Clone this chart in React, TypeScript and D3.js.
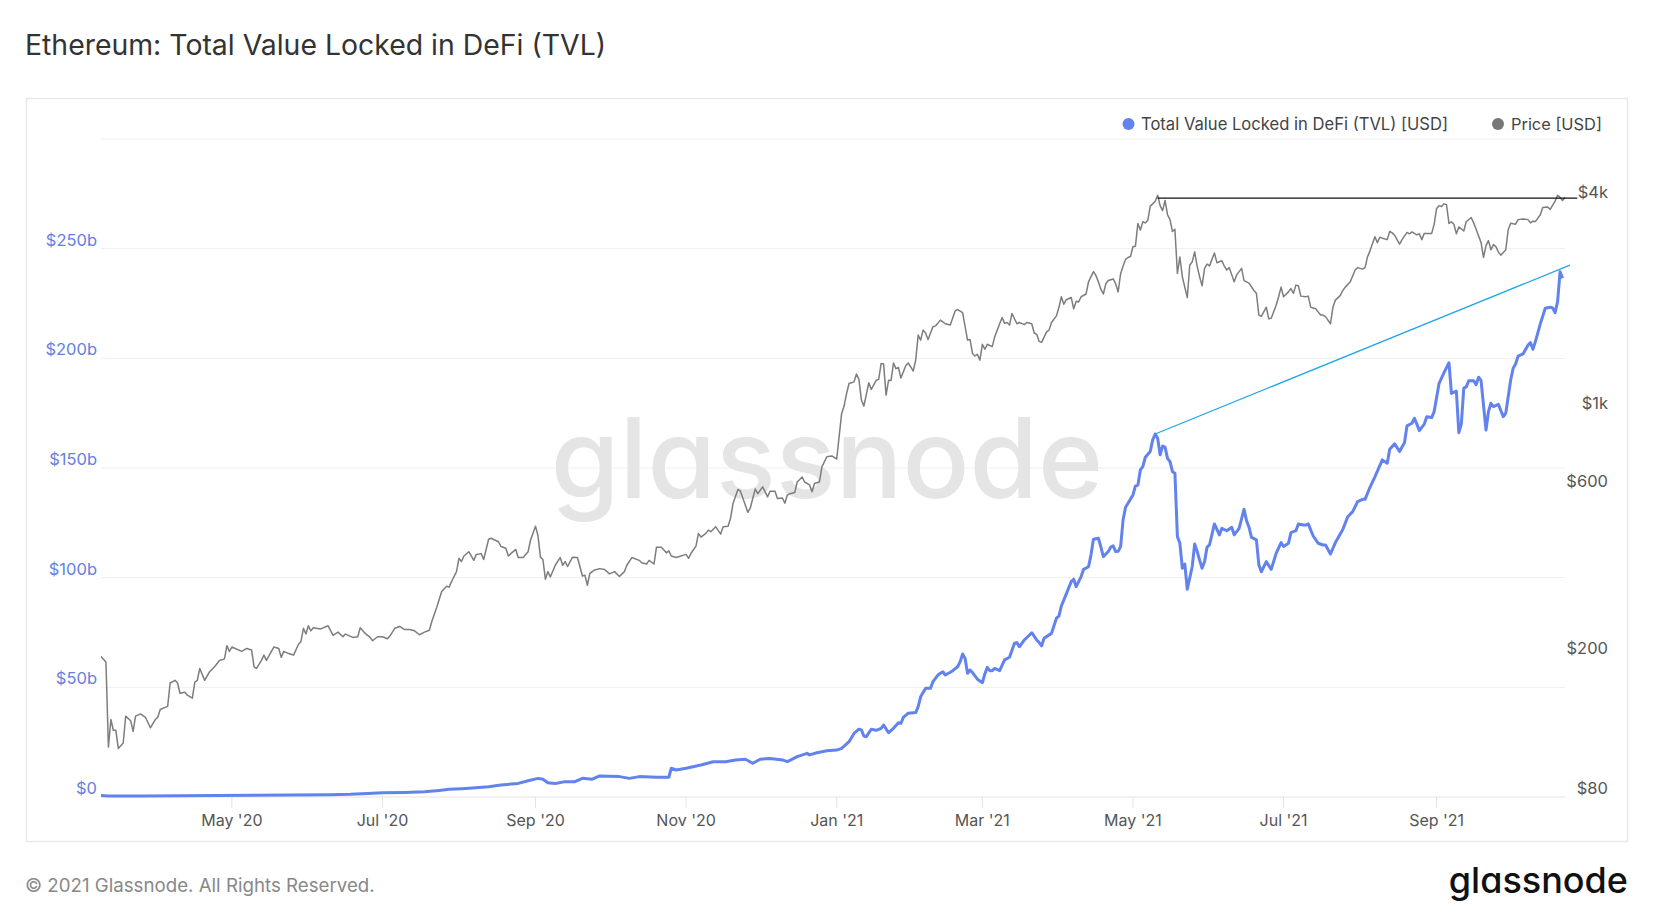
import { useRef, useEffect } from 'react';
import * as d3 from 'd3';

type Point = [string, number];

// ETH price [USD]
const price2020: Point[] = [
  ['2020-03-09', 201], ['2020-03-11', 194], ['2020-03-12', 111], ['2020-03-13', 133], ['2020-03-14', 124],
  ['2020-03-15', 124], ['2020-03-16', 110], ['2020-03-18', 114], ['2020-03-19', 136], ['2020-03-21', 132],
  ['2020-03-22', 123], ['2020-03-23', 136], ['2020-03-25', 138], ['2020-03-27', 135], ['2020-03-29', 126],
  ['2020-03-31', 133], ['2020-04-01', 135], ['2020-04-02', 142], ['2020-04-04', 144], ['2020-04-05', 145],
  ['2020-04-06', 169], ['2020-04-08', 172], ['2020-04-09', 169], ['2020-04-10', 158], ['2020-04-12', 159],
  ['2020-04-13', 156], ['2020-04-15', 153], ['2020-04-16', 170], ['2020-04-17', 172], ['2020-04-18', 186],
  ['2020-04-20', 172], ['2020-04-22', 182], ['2020-04-24', 188], ['2020-04-26', 196], ['2020-04-28', 198],
  ['2020-04-29', 216], ['2020-04-30', 208], ['2020-05-01', 214], ['2020-05-05', 208], ['2020-05-07', 212],
  ['2020-05-09', 210], ['2020-05-10', 188], ['2020-05-11', 186], ['2020-05-13', 196], ['2020-05-14', 203],
  ['2020-05-15', 196], ['2020-05-18', 214], ['2020-05-20', 212], ['2020-05-21', 200], ['2020-05-22', 208],
  ['2020-05-24', 205], ['2020-05-26', 203], ['2020-05-28', 218], ['2020-05-29', 222], ['2020-05-30', 242],
  ['2020-05-31', 233], ['2020-06-01', 246], ['2020-06-02', 238], ['2020-06-03', 243], ['2020-06-06', 241],
  ['2020-06-09', 246], ['2020-06-11', 231], ['2020-06-13', 236], ['2020-06-15', 229], ['2020-06-16', 233],
  ['2020-06-19', 228], ['2020-06-21', 229], ['2020-06-22', 243], ['2020-06-24', 234], ['2020-06-26', 228],
  ['2020-06-27', 223], ['2020-06-29', 229], ['2020-07-01', 229], ['2020-07-03', 226], ['2020-07-04', 230],
  ['2020-07-06', 242], ['2020-07-08', 245], ['2020-07-10', 240], ['2020-07-12', 240], ['2020-07-14', 238],
  ['2020-07-16', 232], ['2020-07-18', 236], ['2020-07-20', 239], ['2020-07-21', 253], ['2020-07-23', 278],
  ['2020-07-25', 308], ['2020-07-27', 319], ['2020-07-28', 317], ['2020-07-29', 329], ['2020-07-31', 351],
  ['2020-08-01', 383], ['2020-08-02', 375], ['2020-08-03', 389], ['2020-08-05', 400], ['2020-08-07', 378],
  ['2020-08-08', 393], ['2020-08-10', 395], ['2020-08-11', 380], ['2020-08-13', 434], ['2020-08-14', 437],
  ['2020-08-17', 427], ['2020-08-18', 414], ['2020-08-20', 409], ['2020-08-21', 389], ['2020-08-22', 395],
  ['2020-08-24', 406], ['2020-08-25', 385], ['2020-08-27', 385], ['2020-08-29', 400], ['2020-08-30', 432],
  ['2020-09-01', 473], ['2020-09-02', 444], ['2020-09-03', 386], ['2020-09-04', 380], ['2020-09-05', 334],
  ['2020-09-06', 351], ['2020-09-07', 339], ['2020-09-09', 366], ['2020-09-11', 385], ['2020-09-12', 366],
  ['2020-09-13', 375], ['2020-09-14', 363], ['2020-09-16', 386], ['2020-09-18', 385], ['2020-09-20', 341],
  ['2020-09-21', 343], ['2020-09-22', 321], ['2020-09-23', 347], ['2020-09-25', 355], ['2020-09-27', 358],
  ['2020-09-29', 356], ['2020-10-01', 346], ['2020-10-03', 351], ['2020-10-05', 340], ['2020-10-07', 351],
  ['2020-10-08', 366], ['2020-10-10', 385], ['2020-10-13', 378], ['2020-10-14', 372], ['2020-10-16', 369],
  ['2020-10-17', 378], ['2020-10-19', 369], ['2020-10-20', 412], ['2020-10-22', 412], ['2020-10-24', 397],
  ['2020-10-25', 402], ['2020-10-26', 389], ['2020-10-28', 385], ['2020-11-01', 393], ['2020-11-02', 383],
  ['2020-11-03', 396], ['2020-11-05', 415], ['2020-11-06', 451], ['2020-11-07', 440], ['2020-11-09', 451],
  ['2020-11-10', 461], ['2020-11-11', 456], ['2020-11-13', 471], ['2020-11-15', 449], ['2020-11-16', 471],
  ['2020-11-18', 473], ['2020-11-19', 498], ['2020-11-20', 549], ['2020-11-22', 602], ['2020-11-23', 595],
  ['2020-11-25', 543], ['2020-11-26', 518], ['2020-11-27', 533], ['2020-11-29', 604], ['2020-11-30', 585],
  ['2020-12-02', 612], ['2020-12-04', 573], ['2020-12-05', 595], ['2020-12-07', 595], ['2020-12-08', 567],
  ['2020-12-10', 569], ['2020-12-11', 550], ['2020-12-12', 580], ['2020-12-13', 585], ['2020-12-15', 590],
  ['2020-12-16', 632], ['2020-12-18', 653], ['2020-12-19', 632], ['2020-12-21', 620], ['2020-12-22', 593],
  ['2020-12-23', 626], ['2020-12-25', 632], ['2020-12-26', 698], ['2020-12-28', 746], ['2020-12-30', 750],
];

const price2021: Point[] = [
  ['2021-01-01', 735], ['2021-01-03', 991], ['2021-01-04', 1040], ['2021-01-05', 1130], ['2021-01-06', 1206],
  ['2021-01-08', 1219], ['2021-01-09', 1283], ['2021-01-10', 1239], ['2021-01-11', 1082], ['2021-01-12', 1040],
  ['2021-01-14', 1212], ['2021-01-15', 1160], ['2021-01-17', 1232], ['2021-01-18', 1239], ['2021-01-19', 1376],
  ['2021-01-20', 1370], ['2021-01-21', 1118], ['2021-01-22', 1232], ['2021-01-23', 1230], ['2021-01-24', 1380],
  ['2021-01-25', 1330], ['2021-01-26', 1340], ['2021-01-27', 1250], ['2021-01-29', 1357], ['2021-01-30', 1380],
  ['2021-02-01', 1309], ['2021-02-02', 1406], ['2021-02-03', 1657], ['2021-02-04', 1603], ['2021-02-05', 1712],
  ['2021-02-06', 1680], ['2021-02-07', 1610], ['2021-02-09', 1750], ['2021-02-10', 1760], ['2021-02-12', 1828],
  ['2021-02-14', 1785], ['2021-02-16', 1770], ['2021-02-18', 1943], ['2021-02-19', 1960], ['2021-02-21', 1920],
  ['2021-02-23', 1604], ['2021-02-24', 1610], ['2021-02-25', 1469], ['2021-02-26', 1445], ['2021-02-27', 1460],
  ['2021-02-28', 1406], ['2021-03-01', 1560], ['2021-03-02', 1510], ['2021-03-03', 1560], ['2021-03-05', 1537],
  ['2021-03-06', 1638], ['2021-03-08', 1785], ['2021-03-09', 1861], ['2021-03-10', 1790], ['2021-03-11', 1800],
  ['2021-03-12', 1770], ['2021-03-13', 1910], ['2021-03-15', 1785], ['2021-03-16', 1800], ['2021-03-18', 1775],
  ['2021-03-19', 1800], ['2021-03-21', 1785], ['2021-03-22', 1680], ['2021-03-23', 1665], ['2021-03-24', 1590],
  ['2021-03-25', 1580], ['2021-03-27', 1693], ['2021-03-28', 1712], ['2021-03-29', 1800], ['2021-03-31', 1880],
  ['2021-04-01', 1985], ['2021-04-02', 2131], ['2021-04-03', 2030], ['2021-04-04', 2090], ['2021-04-06', 2120],
  ['2021-04-07', 1970], ['2021-04-08', 2070], ['2021-04-09', 2060], ['2021-04-10', 2131], ['2021-04-12', 2170],
  ['2021-04-13', 2350], ['2021-04-15', 2512], ['2021-04-16', 2450], ['2021-04-17', 2350], ['2021-04-18', 2240],
  ['2021-04-19', 2170], ['2021-04-20', 2320], ['2021-04-21', 2370], ['2021-04-23', 2395], ['2021-04-24', 2320],
  ['2021-04-25', 2200], ['2021-04-26', 2480], ['2021-04-27', 2606], ['2021-04-28', 2722], ['2021-04-29', 2757],
  ['2021-04-30', 2775], ['2021-05-01', 2958], ['2021-05-02', 2970], ['2021-05-03', 3448], ['2021-05-04', 3300],
  ['2021-05-05', 3485], ['2021-05-06', 3460], ['2021-05-07', 3520], ['2021-05-08', 3862], ['2021-05-09', 3920],
  ['2021-05-10', 3990], ['2021-05-11', 4150], ['2021-05-12', 3875], ['2021-05-13', 3750], ['2021-05-14', 4010],
  ['2021-05-15', 3650], ['2021-05-16', 3535], ['2021-05-17', 3270], ['2021-05-18', 3320], ['2021-05-19', 2483],
  ['2021-05-20', 2765], ['2021-05-21', 2430], ['2021-05-23', 2120], ['2021-05-24', 2620], ['2021-05-25', 2680],
  ['2021-05-26', 2860], ['2021-05-27', 2606], ['2021-05-28', 2430], ['2021-05-29', 2290], ['2021-05-30', 2567],
  ['2021-05-31', 2640], ['2021-06-01', 2610], ['2021-06-03', 2840], ['2021-06-04', 2665], ['2021-06-06', 2700],
  ['2021-06-07', 2606], ['2021-06-08', 2540], ['2021-06-09', 2580], ['2021-06-11', 2350], ['2021-06-12', 2460],
  ['2021-06-14', 2567], ['2021-06-15', 2370], ['2021-06-17', 2330], ['2021-06-19', 2220], ['2021-06-20', 2180],
  ['2021-06-21', 1890], ['2021-06-22', 1875], ['2021-06-24', 1990], ['2021-06-25', 1843], ['2021-06-26', 1850],
  ['2021-06-28', 2015], ['2021-06-29', 2131], ['2021-06-30', 2270], ['2021-07-01', 2131], ['2021-07-03', 2200],
  ['2021-07-04', 2250], ['2021-07-05', 2180], ['2021-07-06', 2300], ['2021-07-07', 2290], ['2021-07-08', 2140],
  ['2021-07-10', 2130], ['2021-07-11', 2140], ['2021-07-12', 1990], ['2021-07-14', 1970], ['2021-07-15', 1930],
  ['2021-07-16', 1890], ['2021-07-17', 1890], ['2021-07-18', 1870], ['2021-07-20', 1785], ['2021-07-21', 1990],
  ['2021-07-22', 2085], ['2021-07-24', 2150], ['2021-07-25', 2220], ['2021-07-26', 2270], ['2021-07-28', 2350],
  ['2021-07-30', 2540], ['2021-07-31', 2580], ['2021-08-02', 2555], ['2021-08-03', 2580], ['2021-08-04', 2768],
  ['2021-08-05', 2880], ['2021-08-07', 3160], ['2021-08-08', 3040], ['2021-08-09', 3150], ['2021-08-10', 3130],
  ['2021-08-12', 3100], ['2021-08-13', 3270], ['2021-08-14', 3240], ['2021-08-15', 3190], ['2021-08-17', 3010],
  ['2021-08-18', 3100], ['2021-08-20', 3250], ['2021-08-21', 3220], ['2021-08-22', 3260], ['2021-08-24', 3200],
  ['2021-08-25', 3220], ['2021-08-26', 3100], ['2021-08-27', 3230], ['2021-08-30', 3230], ['2021-08-31', 3430],
  ['2021-09-01', 3804], ['2021-09-02', 3875], ['2021-09-03', 3850], ['2021-09-04', 3920], ['2021-09-05', 3900],
  ['2021-09-06', 3448], ['2021-09-07', 3485], ['2021-09-08', 3430], ['2021-09-09', 3220], ['2021-09-10', 3370],
  ['2021-09-12', 3280], ['2021-09-13', 3485], ['2021-09-15', 3585], ['2021-09-16', 3460], ['2021-09-17', 3320],
  ['2021-09-19', 3040], ['2021-09-20', 2758], ['2021-09-21', 2980], ['2021-09-22', 3080], ['2021-09-23', 2900],
  ['2021-09-24', 3000], ['2021-09-25', 2960], ['2021-09-26', 2860], ['2021-09-27', 2800], ['2021-09-29', 2900],
  ['2021-09-30', 3310], ['2021-10-01', 3450], ['2021-10-03', 3430], ['2021-10-04', 3535], ['2021-10-06', 3550],
  ['2021-10-08', 3535], ['2021-10-09', 3460], ['2021-10-10', 3500], ['2021-10-11', 3490], ['2021-10-13', 3650],
  ['2021-10-14', 3830], ['2021-10-16', 3840], ['2021-10-17', 3780], ['2021-10-19', 3990], ['2021-10-20', 4150],
  ['2021-10-21', 4090], ['2021-10-22', 4010], ['2021-10-23', 4090],
];

// Total value locked in DeFi [billion USD]
const tvl2020: Point[] = [
  ['2020-03-09', 0.7], ['2020-03-12', 0.5], ['2020-03-25', 0.5], ['2020-04-10', 0.6], ['2020-04-25', 0.7],
  ['2020-05-10', 0.8], ['2020-05-25', 0.9], ['2020-06-10', 1.0], ['2020-06-18', 1.2], ['2020-06-25', 1.6],
  ['2020-07-01', 1.9], ['2020-07-10', 2.1], ['2020-07-18', 2.4], ['2020-07-24', 3.0], ['2020-07-28', 3.5],
  ['2020-08-02', 3.8], ['2020-08-05', 4.0], ['2020-08-13', 4.7], ['2020-08-18', 5.5], ['2020-08-25', 6.2],
  ['2020-08-29', 7.4], ['2020-09-02', 8.5], ['2020-09-04', 8.1], ['2020-09-06', 6.5], ['2020-09-09', 6.2],
  ['2020-09-13', 7.0], ['2020-09-17', 7.0], ['2020-09-20', 8.5], ['2020-09-24', 8.1], ['2020-09-27', 9.6],
  ['2020-10-05', 9.3], ['2020-10-09', 8.5], ['2020-10-13', 9.3], ['2020-10-20', 9.0], ['2020-10-25', 9.0],
  ['2020-10-26', 13.1], ['2020-10-28', 12.3], ['2020-11-01', 13.1], ['2020-11-07', 14.6], ['2020-11-12', 16.1],
  ['2020-11-17', 16.1], ['2020-11-21', 16.9], ['2020-11-25', 17.2], ['2020-11-28', 15.4], ['2020-12-01', 17.2],
  ['2020-12-05', 17.6], ['2020-12-10', 16.9], ['2020-12-12', 16.1], ['2020-12-16', 18.4], ['2020-12-20', 19.9],
  ['2020-12-21', 19.2], ['2020-12-24', 20.2], ['2020-12-28', 21.1],
];

const tvl2021: Point[] = [
  ['2021-01-01', 21.4], ['2021-01-03', 22.2], ['2021-01-06', 25.2], ['2021-01-08', 29.0], ['2021-01-10', 30.9],
  ['2021-01-11', 30.6], ['2021-01-12', 27.8], ['2021-01-13', 27.5], ['2021-01-15', 30.9], ['2021-01-17', 30.4],
  ['2021-01-19', 31.3], ['2021-01-20', 32.8], ['2021-01-22', 29.3], ['2021-01-24', 31.3], ['2021-01-26', 33.9],
  ['2021-01-27', 33.6], ['2021-01-28', 36.3], ['2021-01-30', 38.2], ['2021-02-02', 38.5], ['2021-02-03', 41.2],
  ['2021-02-04', 45.7], ['2021-02-06', 49.6], ['2021-02-08', 49.6], ['2021-02-09', 52.6], ['2021-02-11', 55.6],
  ['2021-02-12', 56.4], ['2021-02-13', 57.1], ['2021-02-14', 55.6], ['2021-02-16', 56.9], ['2021-02-17', 57.6],
  ['2021-02-19', 59.4], ['2021-02-20', 61.7], ['2021-02-21', 65.2], ['2021-02-22', 63.2], ['2021-02-23', 56.4],
  ['2021-02-24', 57.9], ['2021-02-25', 56.7], ['2021-02-27', 53.7], ['2021-03-01', 52.1], ['2021-03-02', 56.1],
  ['2021-03-03', 59.1], ['2021-03-04', 57.6], ['2021-03-05', 57.6], ['2021-03-06', 58.6], ['2021-03-08', 57.6],
  ['2021-03-10', 62.5], ['2021-03-12', 63.7], ['2021-03-14', 70.1], ['2021-03-15', 70.4], ['2021-03-16', 68.5],
  ['2021-03-18', 71.6], ['2021-03-21', 74.9], ['2021-03-23', 71.6], ['2021-03-24', 70.4], ['2021-03-25', 68.9],
  ['2021-03-26', 72.4], ['2021-03-29', 74.6], ['2021-03-31', 81.5], ['2021-04-01', 82.5], ['2021-04-02', 87.1],
  ['2021-04-04', 92.6], ['2021-04-06', 98.2], ['2021-04-07', 99.3], ['2021-04-08', 95.9], ['2021-04-10', 100.5],
  ['2021-04-11', 103.8], ['2021-04-13', 105.0], ['2021-04-14', 110.4], ['2021-04-15', 117.5], ['2021-04-17', 118.0],
  ['2021-04-18', 114.0], ['2021-04-19', 109.6], ['2021-04-21', 111.9], ['2021-04-22', 113.9], ['2021-04-23', 114.5],
  ['2021-04-24', 111.9], ['2021-04-25', 112.0], ['2021-04-26', 114.2], ['2021-04-27', 126.3], ['2021-04-28', 132.1],
  ['2021-04-29', 133.9], ['2021-05-01', 137.7], ['2021-05-02', 141.8], ['2021-05-03', 142.2], ['2021-05-04', 149.1],
  ['2021-05-05', 150.6], ['2021-05-06', 154.9], ['2021-05-08', 157.5], ['2021-05-09', 162.8], ['2021-05-10', 165.5],
  ['2021-05-11', 163.6], ['2021-05-12', 156.0], ['2021-05-13', 160.0], ['2021-05-14', 159.5], ['2021-05-15', 154.4],
  ['2021-05-16', 152.9], ['2021-05-17', 148.3], ['2021-05-18', 147.6], ['2021-05-19', 118.7], ['2021-05-20', 115.7],
  ['2021-05-21', 104.3], ['2021-05-22', 106.2], ['2021-05-23', 94.7], ['2021-05-25', 105.0], ['2021-05-26', 115.4],
  ['2021-05-27', 112.0], ['2021-05-28', 108.0], ['2021-05-29', 104.3], ['2021-05-30', 107.3], ['2021-05-31', 113.9],
  ['2021-06-01', 114.9], ['2021-06-03', 124.5], ['2021-06-05', 119.5], ['2021-06-06', 122.5], ['2021-06-08', 121.4],
  ['2021-06-10', 123.0], ['2021-06-11', 119.5], ['2021-06-13', 122.5], ['2021-06-15', 131.2], ['2021-06-16', 126.0],
  ['2021-06-17', 123.0], ['2021-06-18', 118.4], ['2021-06-20', 117.2], ['2021-06-21', 105.8], ['2021-06-22', 102.7],
  ['2021-06-24', 107.3], ['2021-06-26', 103.8], ['2021-06-28', 111.1], ['2021-06-30', 116.0], ['2021-07-01', 114.2],
  ['2021-07-03', 115.7], ['2021-07-04', 120.5], ['2021-07-06', 121.4], ['2021-07-07', 124.5], ['2021-07-09', 124.0],
  ['2021-07-10', 124.0], ['2021-07-11', 124.5], ['2021-07-13', 119.0], ['2021-07-15', 115.7], ['2021-07-17', 114.9],
  ['2021-07-18', 114.9], ['2021-07-20', 110.8], ['2021-07-22', 116.0], ['2021-07-25', 122.0], ['2021-07-27', 127.8],
  ['2021-07-29', 130.1], ['2021-07-31', 134.7], ['2021-08-02', 135.7], ['2021-08-03', 135.7], ['2021-08-05', 141.2],
  ['2021-08-07', 146.0], ['2021-08-10', 153.7], ['2021-08-12', 152.2], ['2021-08-13', 158.5], ['2021-08-15', 161.0],
  ['2021-08-17', 157.5], ['2021-08-19', 161.6], ['2021-08-20', 169.2], ['2021-08-22', 170.4], ['2021-08-23', 172.7],
  ['2021-08-24', 170.0], ['2021-08-25', 167.0], ['2021-08-27', 170.0], ['2021-08-28', 173.4], ['2021-08-30', 173.0],
  ['2021-08-31', 175.7], ['2021-09-02', 188.6], ['2021-09-04', 193.5], ['2021-09-06', 198.0], ['2021-09-07', 184.0],
  ['2021-09-09', 185.0], ['2021-09-10', 166.1], ['2021-09-11', 170.0], ['2021-09-12', 186.4], ['2021-09-13', 187.0],
  ['2021-09-14', 189.8], ['2021-09-16', 189.8], ['2021-09-17', 188.0], ['2021-09-18', 191.4], ['2021-09-19', 189.8],
  ['2021-09-21', 167.3], ['2021-09-22', 175.7], ['2021-09-23', 179.5], ['2021-09-24', 178.0], ['2021-09-26', 179.0],
  ['2021-09-27', 176.2], ['2021-09-28', 173.4], ['2021-09-29', 175.0], ['2021-10-01', 190.1], ['2021-10-02', 195.5],
  ['2021-10-03', 197.4], ['2021-10-04', 201.0], ['2021-10-06', 202.0], ['2021-10-08', 206.0], ['2021-10-09', 207.2],
  ['2021-10-10', 204.1], ['2021-10-11', 207.6], ['2021-10-13', 215.7], ['2021-10-15', 222.8], ['2021-10-17', 223.3],
  ['2021-10-18', 223.0], ['2021-10-19', 220.8], ['2021-10-20', 225.9], ['2021-10-21', 239.5], ['2021-10-22', 236.5],
];

// axes
const tvlTicks = [0, 50, 100, 150, 200, 250, 300];
const tvlTickLabels = ['$0', '$50b', '$100b', '$150b', '$200b', '$250b', ''];
const priceTicks = [80, 200, 600, 1000, 4000];
const priceTickLabels = ['$80', '$200', '$600', '$1k', '$4k'];
const xTicks = ['2020-05-01', '2020-07-01', '2020-09-01', '2020-11-01', '2021-01-01', '2021-03-01', '2021-05-01', '2021-07-01', '2021-09-01'];

// annotations drawn on the chart
const athLine: Point[] = [['2021-05-11', 4070], ['2021-10-28', 4070]];
const tvlTrend: Point[] = [['2021-05-10', 165.5], ['2021-10-25', 242.5]];

const TVL_COLOR = '#6282ee';
const PRICE_COLOR = '#7d7d7d';
const FONT = 'Inter, "Noto Sans", sans-serif';

export default function App() {
  const svgRef = useRef<SVGSVGElement>(null);

  const drawChart = () => {
    const svg = d3.select(svgRef.current);
    svg.selectAll('*').remove();

    const parse = d3.timeParse('%Y-%m-%d');
    const toDate = (s: string) => parse(s) as Date;
    const price = [...price2020, ...price2021].map(([d, v]) => ({ date: toDate(d), value: v }));
    const tvl = [...tvl2020, ...tvl2021].map(([d, v]) => ({ date: toDate(d), value: v }));

    // plot area
    const left = 101, right = 1565, top = 139, bottom = 797;

    const x = d3.scaleTime()
      .domain(d3.extent(price, d => d.date) as [Date, Date])
      .range([left, right]);
    const yTvl = d3.scaleLinear().domain([0, 300]).range([bottom, top]);
    const yPrice = d3.scaleLog().domain([80, 6000]).range([bottom, top]);

    svg.append('rect').attr('width', 1660).attr('height', 913).attr('fill', '#fff');

    // title
    svg.append('text')
      .attr('x', 25).attr('y', 55)
      .style('font-family', FONT).style('font-size', '28.4px').style('font-weight', 400)
      .attr('fill', '#333')
      .text('Ethereum: Total Value Locked in DeFi (TVL)');

    // chart frame
    svg.append('rect')
      .attr('x', 26.5).attr('y', 98.5).attr('width', 1601).attr('height', 743)
      .attr('fill', 'none').attr('stroke', '#e8e8e8').attr('stroke-width', 1.5);

    // grid lines
    svg.append('g').selectAll('line')
      .data(tvlTicks)
      .enter().append('line')
      .attr('x1', left).attr('x2', right)
      .attr('y1', d => yTvl(d)).attr('y2', d => yTvl(d))
      .attr('stroke', d => (d === 0 ? '#e3e3e3' : '#efefef'))
      .attr('stroke-width', 1);

    // watermark
    svg.append('text')
      .attr('x', 827).attr('y', 498)
      .attr('text-anchor', 'middle')
      .style('font-family', FONT).style('font-size', '111px').style('font-weight', 500)
      .style('font-feature-settings', '"cv11" 1')
      .attr('fill', '#e5e5e5')
      .text('glassnode');

    // x axis ticks + labels
    const fmt = d3.timeFormat("%b '%y");
    const xg = svg.append('g');
    xTicks.forEach(t => {
      const xp = x(toDate(t));
      xg.append('line')
        .attr('x1', xp).attr('x2', xp).attr('y1', bottom).attr('y2', bottom + 11)
        .attr('stroke', '#e3e3e3');
      xg.append('text')
        .attr('x', xp).attr('y', 825.5)
        .attr('text-anchor', 'middle')
        .style('font-family', FONT).style('font-size', '16px')
        .attr('fill', '#555')
        .text(fmt(toDate(t)));
    });

    // left axis labels (TVL)
    svg.append('g').selectAll('text')
      .data(tvlTicks)
      .enter().append('text')
      .attr('x', 97).attr('y', d => yTvl(d) - 3)
      .attr('text-anchor', 'end')
      .style('font-family', FONT).style('font-size', '16.5px')
      .attr('fill', '#6580e0')
      .text((d, i) => tvlTickLabels[i]);

    // right axis labels (price, log)
    svg.append('g').selectAll('text')
      .data(priceTicks)
      .enter().append('text')
      .attr('x', 1608).attr('y', d => yPrice(d) - 3)
      .attr('text-anchor', 'end')
      .style('font-family', FONT).style('font-size', '16.5px')
      .attr('fill', '#555')
      .text((d, i) => priceTickLabels[i]);

    // price line
    const priceLine = d3.line<{ date: Date; value: number }>()
      .x(d => x(d.date))
      .y(d => yPrice(d.value));
    svg.append('path')
      .datum(price)
      .attr('d', priceLine)
      .attr('fill', 'none')
      .attr('stroke', PRICE_COLOR)
      .attr('stroke-width', 1.5)
      .attr('stroke-linejoin', 'round');

    // TVL line
    const tvlLine = d3.line<{ date: Date; value: number }>()
      .x(d => x(d.date))
      .y(d => yTvl(d.value));
    svg.append('path')
      .datum(tvl)
      .attr('d', tvlLine)
      .attr('fill', 'none')
      .attr('stroke', TVL_COLOR)
      .attr('stroke-width', 3)
      .attr('stroke-linejoin', 'round');

    // annotation: price ATH level
    svg.append('line')
      .attr('x1', x(toDate(athLine[0][0]))).attr('y1', yPrice(athLine[0][1]))
      .attr('x2', x(toDate(athLine[1][0]))).attr('y2', yPrice(athLine[1][1]))
      .attr('stroke', '#111').attr('stroke-width', 1.2);

    // annotation: TVL trend line
    svg.append('line')
      .attr('x1', x(toDate(tvlTrend[0][0]))).attr('y1', yTvl(tvlTrend[0][1]))
      .attr('x2', x(toDate(tvlTrend[1][0]))).attr('y2', yTvl(tvlTrend[1][1]))
      .attr('stroke', '#1ea5ea').attr('stroke-width', 1.2);

    // legend
    const legend = svg.append('g');
    legend.append('circle').attr('cx', 1128.5).attr('cy', 124).attr('r', 6).attr('fill', TVL_COLOR);
    legend.append('text')
      .attr('x', 1141).attr('y', 130)
      .style('font-family', FONT).style('font-size', '16.6px')
      .attr('fill', '#444')
      .text('Total Value Locked in DeFi (TVL) [USD]');
    legend.append('circle').attr('cx', 1498).attr('cy', 124).attr('r', 6).attr('fill', '#777');
    legend.append('text')
      .attr('x', 1511).attr('y', 130)
      .style('font-family', FONT).style('font-size', '16.4px')
      .attr('fill', '#444')
      .text('Price [USD]');

    // footer
    svg.append('text')
      .attr('x', 25).attr('y', 891.5)
      .style('font-family', FONT).style('font-size', '18.7px')
      .attr('fill', '#888')
      .text('© 2021 Glassnode. All Rights Reserved.');
    svg.append('text')
      .attr('x', 1628).attr('y', 893)
      .attr('text-anchor', 'end')
      .style('font-family', FONT).style('font-size', '36px').style('font-weight', 500)
      .style('font-feature-settings', '"cv11" 1')
      .attr('fill', '#111')
      .text('glassnode');
  };

  useEffect(() => {
    drawChart();
  }, []);

  return (
    <div style={{ position: 'absolute', left: 0, top: 0 }}>
      <svg ref={svgRef} width={1660} height={913} style={{ display: 'block' }} />
    </div>
  );
}
